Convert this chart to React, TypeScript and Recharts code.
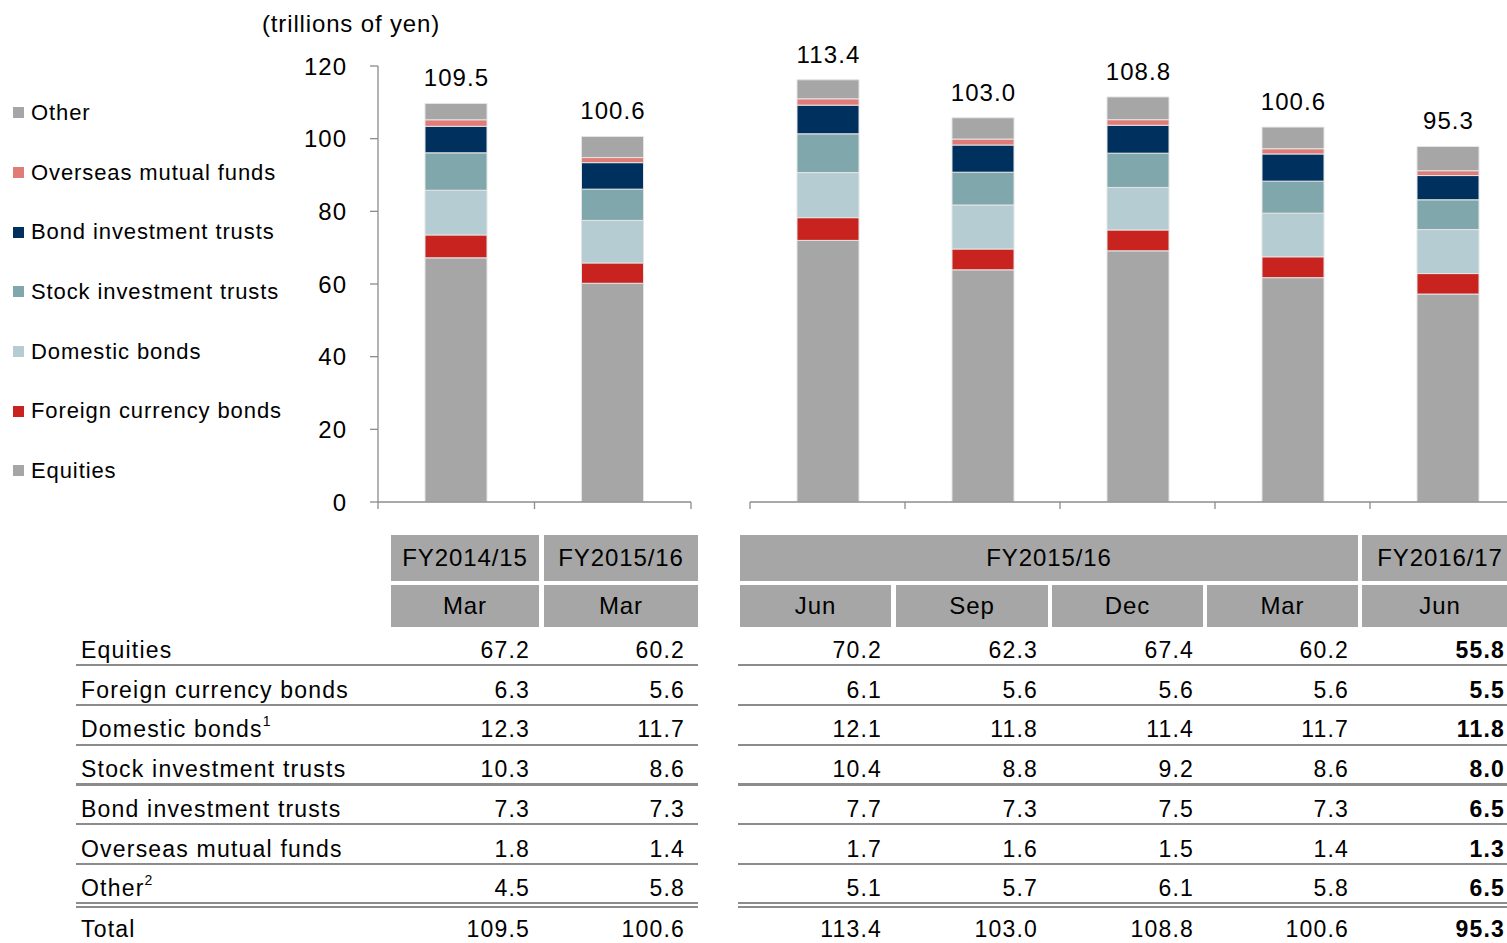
import React from 'react';
import { BarChart, Bar, XAxis, YAxis, Legend, LabelList } from 'recharts';

const FONT = '"Liberation Sans", Arial, Helvetica, sans-serif';
const AXIS = '#8C8C8C';

// ---- data ----
const fiscalYears = ['FY2014/15', 'FY2015/16', 'FY2015/16', 'FY2015/16', 'FY2015/16', 'FY2015/16', 'FY2016/17'];
const months = ['Mar', 'Mar', 'Jun', 'Sep', 'Dec', 'Mar', 'Jun'];
const equities = [67.2, 60.2, 70.2, 62.3, 67.4, 60.2, 55.8];
const foreignBonds = [6.3, 5.6, 6.1, 5.6, 5.6, 5.6, 5.5];
const domesticBonds = [12.3, 11.7, 12.1, 11.8, 11.4, 11.7, 11.8];
const stockTrusts = [10.3, 8.6, 10.4, 8.8, 9.2, 8.6, 8.0];
const bondTrusts = [7.3, 7.3, 7.7, 7.3, 7.5, 7.3, 6.5];
const overseasFunds = [1.8, 1.4, 1.7, 1.6, 1.5, 1.4, 1.3];
const other = [4.5, 5.8, 5.1, 5.7, 6.1, 5.8, 6.5];
const totals = [109.5, 100.6, 113.4, 103.0, 108.8, 100.6, 95.3];
const yTicks = [0, 20, 40, 60, 80, 100, 120];

const series = [
  { key: 'equities', name: 'Equities', sup: '', color: '#A6A6A6', values: equities },
  { key: 'foreignBonds', name: 'Foreign currency bonds', sup: '', color: '#C9231F', values: foreignBonds },
  { key: 'domesticBonds', name: 'Domestic bonds', sup: '1', color: '#B5CDD2', values: domesticBonds },
  { key: 'stockTrusts', name: 'Stock investment trusts', sup: '', color: '#80A8AC', values: stockTrusts },
  { key: 'bondTrusts', name: 'Bond investment trusts', sup: '', color: '#00305D', values: bondTrusts },
  { key: 'overseasFunds', name: 'Overseas mutual funds', sup: '', color: '#E07B78', values: overseasFunds },
  { key: 'other', name: 'Other', sup: '2', color: '#A6A6A6', values: other },
];

const rows = months.map((m, i) => {
  const r: any = { month: m, fy: fiscalYears[i], total: totals[i], id: i };
  series.forEach((s) => (r[s.key] = s.values[i]));
  return r;
});
const leftData = rows.slice(0, 2);
const rightData = rows.slice(2);

// ---- layout (styles only) ----
const colLeft = [391, 544, 740, 896, 1052, 1207, 1362];
const colRight = [539, 698, 891, 1048, 1203, 1358, 1518];
const valueRight = [530, 685, 882, 1038, 1194, 1349, 1505];

const makeBoundaryTick = (bw: number, n: number) => (props: any) => {
  const { x, y, index } = props;
  const l = x - bw / 2;
  return (
    <g>
      <line x1={l} y1={y} x2={l} y2={y + 7} stroke={AXIS} strokeWidth={1.3} />
      {index === n - 1 && <line x1={x + bw / 2} y1={y} x2={x + bw / 2} y2={y + 7} stroke={AXIS} strokeWidth={1.3} />}
    </g>
  );
};

const totalLabel = (props: any) => {
  const { x, y, width, value } = props;
  return (
    <text x={x + width / 2 + 0.5} y={y - 17} textAnchor="middle" fontSize={24} letterSpacing={1.1} fontFamily={FONT} fill="#000">
      {Number(value).toFixed(1)}
    </text>
  );
};

const seriesIndex = (k: any) => series.findIndex((s) => s.key === k);

const renderLegend = (props: any) => {
  const payload = [...(props.payload || [])].sort((a: any, b: any) => seriesIndex(b.dataKey) - seriesIndex(a.dataKey));
  return (
    <div style={{ fontFamily: FONT, fontSize: 22, letterSpacing: 0.9, color: '#000' }}>
      {payload.map((p: any) => (
        <div key={p.value} style={{ height: 59.7, display: 'flex', alignItems: 'center' }}>
          <span style={{ display: 'inline-block', width: 11, height: 11, background: p.color, marginRight: 7 }} />
          <span>{p.value}</span>
        </div>
      ))}
    </div>
  );
};

function Panel(props: { data: any[]; width: number; height: number; margin: any; domainMax: number; showY: boolean; plotWidth: number }) {
  const { data, width, height, margin, domainMax, showY, plotWidth } = props;
  const n = data.length;
  return (
    <BarChart width={width} height={height} data={data} margin={margin}>
      <XAxis
        dataKey="id"
        height={30}
        interval={0}
        tickSize={0}
        tickMargin={0}
        tickLine={false}
        axisLine={{ stroke: AXIS, strokeWidth: 1.3 }}
        tick={makeBoundaryTick(plotWidth / n, n)}
      />
      <YAxis
        hide={!showY}
        width={60}
        domain={[0, domainMax]}
        ticks={yTicks}
        allowDataOverflow
        tickSize={8}
        tickMargin={23}
        axisLine={{ stroke: AXIS, strokeWidth: 1.3 }}
        tickLine={{ stroke: AXIS, strokeWidth: 1.3 }}
        tick={{ fill: '#000', fontSize: 24, fontFamily: FONT, letterSpacing: 1 }}
      />
      {showY && (
        <Legend
          layout="vertical"
          align="center"
          verticalAlign="middle"
          content={renderLegend}
          wrapperStyle={{ left: 13, top: 83, width: 320 }}
        />
      )}
      {series.map((s, i) => (
        <Bar
          key={s.key}
          dataKey={s.key}
          name={s.name}
          stackId="a"
          fill={s.color}
          stroke="#E4E4E4"
          strokeWidth={1}
          barSize={62}
          isAnimationActive={false}
        >
          {i === series.length - 1 && <LabelList dataKey="total" content={totalLabel} />}
        </Bar>
      ))}
    </BarChart>
  );
}

function Table() {
  const headerStyle: React.CSSProperties = {
    position: 'absolute',
    background: '#A6A6A6',
    display: 'flex',
    alignItems: 'center',
    justifyContent: 'center',
    fontSize: 24,
    letterSpacing: 0.9,
    color: '#000',
  };
  const groups: { fy: string; l: number; r: number }[] = [];
  fiscalYears.forEach((fy, i) => {
    const g = groups[groups.length - 1];
    if (g && g.fy === fy && colLeft[i] - g.r < 10) g.r = colRight[i];
    else groups.push({ fy, l: colLeft[i], r: colRight[i] });
  });
  const rowY = (i: number) => 650 + 39.7 * i;
  const textStyle = (cy: number): React.CSSProperties => ({
    position: 'absolute',
    top: cy - 15,
    height: 30,
    lineHeight: '30px',
    fontSize: 23,
    letterSpacing: 1.2,
    color: '#000',
    whiteSpace: 'nowrap',
  });
  const lines: React.ReactNode[] = [];
  [665, 705, 745, 784.5, 824, 864].forEach((y, k) => {
    lines.push(<div key={'la' + k} style={{ position: 'absolute', left: 76, width: 622, top: y - 1.2, height: 2.5, background: AXIS }} />);
    lines.push(<div key={'lb' + k} style={{ position: 'absolute', left: 738, width: 800, top: y - 1.2, height: 2.5, background: AXIS }} />);
  });
  [902, 905.5].forEach((y, k) => {
    lines.push(<div key={'da' + k} style={{ position: 'absolute', left: 76, width: 622, top: y, height: 2, background: AXIS }} />);
    lines.push(<div key={'db' + k} style={{ position: 'absolute', left: 738, width: 800, top: y, height: 2, background: AXIS }} />);
  });
  return (
    <>
      {groups.map((g, k) => (
        <div key={'g' + k} style={{ ...headerStyle, left: g.l, width: g.r - g.l, top: 535, height: 46 }}>{g.fy}</div>
      ))}
      {months.map((m, i) => (
        <div key={'m' + i} style={{ ...headerStyle, left: colLeft[i], width: colRight[i] - colLeft[i], top: 585, height: 42 }}>{m}</div>
      ))}
      {lines}
      {series.map((s, r) => (
        <React.Fragment key={s.key}>
          <div style={{ ...textStyle(rowY(r)), left: 81 }}>
            {s.name}
            {s.sup && <sup style={{ fontSize: 14, letterSpacing: 0, verticalAlign: 'top', position: 'relative', top: -8 }}>{s.sup}</sup>}
          </div>
          {s.values.map((v, c) => (
            <div
              key={c}
              style={{ ...textStyle(rowY(r)), right: 1507 - valueRight[c], fontWeight: c === s.values.length - 1 ? 'bold' : 'normal' }}
            >
              {v.toFixed(1)}
            </div>
          ))}
        </React.Fragment>
      ))}
      <div style={{ ...textStyle(929), left: 81 }}>Total</div>
      {totals.map((v, c) => (
        <div key={'t' + c} style={{ ...textStyle(929), right: 1507 - valueRight[c], fontWeight: c === totals.length - 1 ? 'bold' : 'normal' }}>
          {v.toFixed(1)}
        </div>
      ))}
    </>
  );
}

export default function App() {
  return (
    <div style={{ position: 'absolute', left: 0, top: 0, width: 1507, height: 943, overflow: 'hidden', background: '#fff', fontFamily: FONT }}>
      <div style={{ position: 'absolute', left: 262, top: 10, fontSize: 24, letterSpacing: 0.85, color: '#000', whiteSpace: 'nowrap' }}>(trillions of yen)</div>
      <div style={{ position: 'absolute', left: 0, top: 0 }}>
        <Panel data={leftData} width={700} height={540} margin={{ top: 66, right: 9, bottom: 8, left: 318 }} domainMax={120} showY plotWidth={313} />
      </div>
      <div style={{ position: 'absolute', left: 740, top: 0 }}>
        <Panel data={rightData} width={800} height={540} margin={{ top: 66, right: 15, bottom: 8, left: 10 }} domainMax={117} showY={false} plotWidth={775} />
      </div>
      <Table />
    </div>
  );
}
